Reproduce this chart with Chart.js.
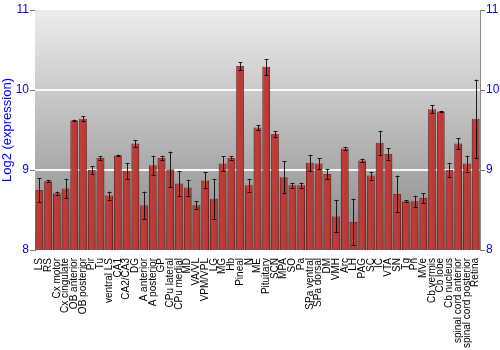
<!DOCTYPE html>
<html>
<head>
<meta charset="utf-8">
<script src="https://cdn.jsdelivr.net/npm/chart.js@4"></script>
<style>
  html, body { margin: 0; padding: 0; background: #fff; }
  #wrap { width: 500px; height: 350px; }
</style>
</head>
<body>
<div id="wrap"><canvas id="chart" width="500" height="350"></canvas></div>
<script>
// Brain region expression (log2) with standard error
const regions = ['LS', 'RS', 'Cx motor', 'Cx cingulate', 'OB anterior', 'OB posterior', 'Pir', 'Tu',
  'ventral LS', 'CA1', 'CA2/CA3', 'DG', 'A anterior', 'A posterior', 'GP', 'CPu lateral', 'CPu medial',
  'MD', 'VA/VL', 'VPM/VPL', 'LG', 'MG', 'Hb', 'Pineal', 'N', 'ME', 'Pituitary', 'SCN', 'MPA', 'SO', 'Pa',
  'SPa ventral', 'SPa dorsal', 'DM', 'VMH', 'Arc', 'LH', 'PAG', 'SC', 'IC', 'VTA', 'SN', 'Tg', 'Pn', 'MVe',
  'Cb vermis', 'Cb lobe', 'Cb nucleus', 'spinal cord anterior', 'spinal cord posterior', 'Retina'];

const expression = [8.75, 8.86, 8.71, 8.77, 9.62, 9.64, 9.0, 9.15, 8.68, 9.18, 8.99, 9.33, 8.56, 9.06,
  9.15, 9.01, 8.83, 8.78, 8.56, 8.87, 8.64, 9.08, 9.15, 10.3, 8.81, 9.53, 10.29, 9.45, 8.91, 8.81, 8.81,
  9.09, 9.08, 8.95, 8.42, 9.27, 8.35, 9.12, 8.93, 9.34, 9.2, 8.7, 8.61, 8.61, 8.65, 9.76, 9.73, 9.0,
  9.33, 9.08, 9.64];

const stdErr = [0.15, 0.01, 0.02, 0.12, 0.01, 0.03, 0.05, 0.02, 0.05, 0.01, 0.1, 0.04, 0.17, 0.12,
  0.03, 0.22, 0.16, 0.1, 0.05, 0.1, 0.25, 0.09, 0.02, 0.05, 0.08, 0.03, 0.1, 0.04, 0.2, 0.03, 0.03,
  0.1, 0.07, 0.06, 0.2, 0.02, 0.29, 0.02, 0.05, 0.15, 0.07, 0.23, 0.01, 0.07, 0.06, 0.05, 0.01, 0.09,
  0.07, 0.1, 0.49];

const yTicks = [8, 9, 10, 11];

// gray gradient behind the plot
const plotBackground = {
  id: 'plotBackground',
  beforeDatasetsDraw(chart) {
    const { ctx, chartArea: a } = chart;
    const g = ctx.createLinearGradient(0, a.top, 0, a.bottom);
    g.addColorStop(0, '#ececec');
    g.addColorStop(1, '#878787');
    ctx.save();
    ctx.fillStyle = g;
    ctx.fillRect(a.left, a.top, a.right - a.left, a.bottom - a.top);
    // white grid lines on top of the gradient
    const y = chart.scales.y;
    ctx.strokeStyle = 'rgba(255,255,255,0.9)';
    ctx.lineWidth = 2;
    [9, 10].forEach(v => {
      const py = Math.round(y.getPixelForValue(v));
      ctx.beginPath();
      ctx.moveTo(a.left, py);
      ctx.lineTo(a.right, py);
      ctx.stroke();
    });
    ctx.restore();
  }
};

// shading on the bars and error bars
const barDecor = {
  id: 'barDecor',
  afterDatasetsDraw(chart) {
    const { ctx, chartArea: a } = chart;
    const meta = chart.getDatasetMeta(0);
    const y = chart.scales.y;
    ctx.save();
    ctx.beginPath();
    ctx.rect(a.left, a.top, a.right - a.left, a.bottom - a.top);
    ctx.clip();
    meta.data.forEach(bar => {
      const left = bar.x - bar.width / 2;
      const g = ctx.createLinearGradient(left, 0, left + bar.width, 0);
      g.addColorStop(0, 'rgba(60,0,0,0.35)');
      g.addColorStop(0.35, 'rgba(255,140,140,0.12)');
      g.addColorStop(0.6, 'rgba(255,140,140,0.05)');
      g.addColorStop(1, 'rgba(60,0,0,0.4)');
      ctx.fillStyle = g;
      const bottom = Math.min(bar.base, a.bottom);
      ctx.fillRect(left, bar.y, bar.width, bottom - bar.y);
    });

    ctx.strokeStyle = 'rgba(0,0,0,0.85)';
    ctx.lineWidth = 1;
    meta.data.forEach((bar, i) => {
      const x = Math.round(bar.x) + 0.5;
      const hi = y.getPixelForValue(expression[i] + stdErr[i]);
      const lo = y.getPixelForValue(expression[i] - stdErr[i]);
      ctx.beginPath();
      ctx.moveTo(x, hi);
      ctx.lineTo(x, lo);
      ctx.moveTo(x - 2, Math.round(hi) + 0.5);
      ctx.lineTo(x + 2, Math.round(hi) + 0.5);
      ctx.moveTo(x - 2, Math.round(lo) + 0.5);
      ctx.lineTo(x + 2, Math.round(lo) + 0.5);
      ctx.stroke();
    });
    ctx.restore();
  }
};

const tickFont = { family: 'Liberation Sans, Arial, sans-serif', size: 12 };

new Chart(document.getElementById('chart'), {
  type: 'bar',
  data: {
    labels: regions,
    datasets: [{
      data: expression,
      backgroundColor: '#bb322d',
      borderColor: 'rgba(110,20,20,0.8)',
      borderWidth: { left: 1, right: 1, top: 1, bottom: 0 },
      barPercentage: 0.88,
      categoryPercentage: 1.0
    }]
  },
  options: {
    responsive: false,
    animation: false,
    layout: { padding: { top: 10, left: 0, right: 0, bottom: 0 } },
    plugins: {
      legend: { display: false },
      tooltip: { enabled: false }
    },
    scales: {
      x: {
        grid: { display: false },
        border: { display: false },
        ticks: {
          color: '#000',
          font: { family: 'Liberation Sans, Arial, sans-serif', size: 10 },
          maxRotation: 90,
          minRotation: 90,
          autoSkip: false,
          padding: 0
        },
        afterFit(scale) { scale.height = 100; }
      },
      y: {
        min: 8,
        max: 11,
        position: 'left',
        afterBuildTicks(scale) { scale.ticks = yTicks.map(v => ({ value: v })); },
        grid: { drawOnChartArea: false, tickLength: 5, tickColor: '#777' },
        border: { color: '#888', width: 1 },
        ticks: { color: '#0000ff', font: tickFont, padding: 1 },
        title: {
          display: true,
          text: 'Log2 (expression)',
          color: '#0000ff',
          font: { family: 'Liberation Sans, Arial, sans-serif', size: 13 },
          padding: 0
        },
        afterFit(scale) { scale.width = 35; }
      },
      y2: {
        min: 8,
        max: 11,
        position: 'right',
        afterBuildTicks(scale) { scale.ticks = yTicks.map(v => ({ value: v })); },
        grid: { drawOnChartArea: false, tickLength: 5, tickColor: '#777' },
        border: { color: '#888', width: 1 },
        ticks: { color: '#0000ff', font: tickFont, padding: 1 },
        afterFit(scale) { scale.width = 20; }
      }
    }
  },
  plugins: [plotBackground, barDecor]
});
</script>
</body>
</html>
